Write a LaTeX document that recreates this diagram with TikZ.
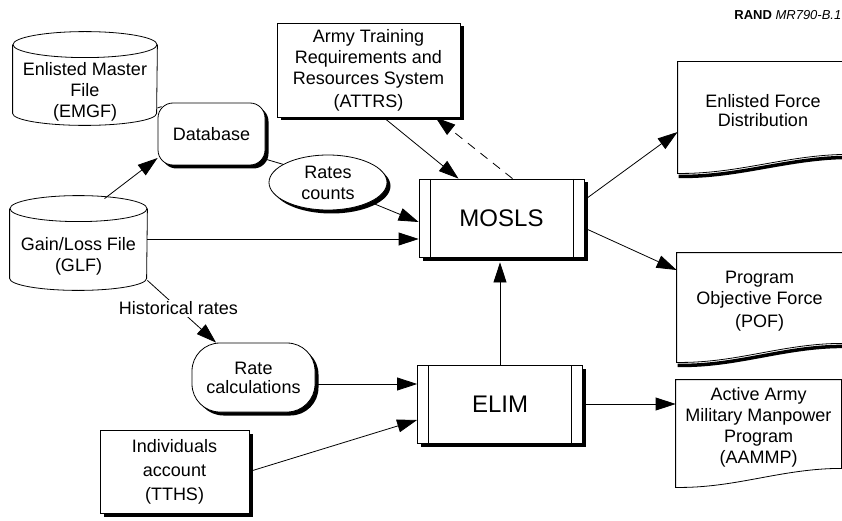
\documentclass[tikz,border=0pt]{standalone}
\usepackage{fontspec}
\setmainfont{Liberation Sans}
\usetikzlibrary{arrows.meta,shadows,shapes.geometric}

\tikzset{
  every node/.style={font=\fontsize{18}{21}\selectfont,align=center,inner sep=0pt},
  arr/.style={-{Triangle[length=20pt,width=13pt]},line width=0.8pt},
  shadowed/.style={drop shadow={fill=black,opacity=1,
      shadow xshift=3.5pt,shadow yshift=-3.5pt}},
  box/.style={draw,fill=white,line width=0.8pt,shadowed},
  roundbox/.style={box},
  procbox/.style={box,minimum width=165pt,minimum height=78pt,
    font=\fontsize{24}{28}\selectfont,
    path picture={
      \draw ([xshift=11pt]path picture bounding box.north west) --
        ([xshift=11pt]path picture bounding box.south west);
      \draw ([xshift=-11pt]path picture bounding box.north east) --
        ([xshift=-11pt]path picture bounding box.south east);}},
  drum/.style={},
  docbox/.style={}
}

\begin{document}
\begin{tikzpicture}[x=1pt,y=-1pt,line width=0.8pt]
\useasboundingbox (0,0) rectangle (842,521);

\begin{scope} % files and sources
  \node (emgf) [drum,minimum width=144pt,minimum height=66pt] at (85,92)
    {Enlisted Master\\File\\(EMGF)};
  \node (glf) [drum,minimum width=137pt,minimum height=67pt] at (78.5,256.5)
    {Gain/Loss File\\(GLF)};
  \node (database) [roundbox,rounded corners=15pt,minimum width=107pt,
    minimum height=62pt] at (211.5,134) {Database};
  \node (rates) [ellipse,box,minimum width=118pt,minimum height=55pt]
    at (328,182.5) {Rates\\counts};
  \node (attrs) [box,minimum width=183pt,minimum height=94pt] at (368.5,70)
    {Army Training\\Requirements and\\Resources System\\[2pt](ATTRS)};
  \node (ratecalc) [roundbox,rounded corners=28pt,minimum width=123pt,
    minimum height=69pt] at (253.5,377.5) {Rate\\[-2pt]calculations};
  \node (indiv) [box,minimum width=149pt,minimum height=83pt] at (174.5,471.5)
    {Individuals\\[3pt]account\\[3pt](TTHS)};
\end{scope}

\begin{scope} % models
  \node (mosls) [procbox] at (501.5,218) {MOSLS};
  \node (elim) [procbox] at (500,404) {ELIM};
\end{scope}

\begin{scope} % output documents
  \node (efd) [docbox,minimum width=170pt,minimum height=98pt] at (763,111)
    {Enlisted Force\\[-2pt]Distribution};
  \node (pof) [docbox,minimum width=165pt,minimum height=96pt] at (759.5,301)
    {Program\\Objective Force\\[2pt](POF)};
  \node (aammp) [docbox,minimum width=165pt,minimum height=94pt]
    at (758.5,427) {Active Army\\Military Manpower\\Program\\(AAMMP)};
\end{scope}

\node (rand) [anchor=west,font=\fontsize{13}{15}\selectfont] at (734,15)
  {\textbf{RAND} \textit{MR790-B.1}};

\foreach \n/\rx in {emgf/72pt,glf/68.5pt} { % drums
  \draw ([yshift=14pt]\n.north west) -- ([yshift=12pt]\n.south west)
    arc[start angle=180,end angle=360,x radius=\rx,y radius=12pt]
    -- ([yshift=14pt]\n.north east);
  \draw ([yshift=14pt]\n.north) ellipse[x radius=\rx,y radius=13pt];
}

\foreach \n in {efd,pof} { % thick lower edges
  \draw[line width=3.5pt]
    ([shift={(1pt,3pt)}]\n.south east) .. controls +(-60pt,0pt) and
    +(60pt,-1pt) .. ([shift={(1pt,-16pt)}]\n.south west);
}
\foreach \n in {efd,pof,aammp} {
  \draw (\n.north west) -- (\n.north east) -- ([yshift=6pt]\n.south east)
    .. controls +(-60pt,0pt) and +(60pt,-1pt) ..
    ([yshift=-13pt]\n.south west) -- cycle;
}

\begin{scope} % connectors
  \coordinate (glfin) at ([yshift=-21pt]mosls.west);
  \coordinate (rcin) at ([yshift=20pt]elim.west);
  \draw ([yshift=-16pt]emgf.east) -- ([xshift=4pt,yshift=-4pt]database.north west);
  \draw[arr] ([xshift=26pt,yshift=24pt]glf.north) -- (database.204);
  \draw (database.-25) -- (rates.158);
  \draw[arr] (rates.-25) -- ([yshift=-4pt]mosls.west);
  \draw[arr] (glf.east |- glfin) -- (glfin);
  \draw[arr] ([xshift=15pt]attrs.south) -- ([xshift=-43pt]mosls.north);
  \draw[arr,dash pattern=on 9pt off 7pt] ([xshift=11pt]mosls.north) --
    ([xshift=67pt]attrs.south);
  \draw[arr,shorten >=5pt] (elim.north) -- (elim.north |- mosls.south);
  \draw[arr] ([yshift=18pt]mosls.east) -- ([yshift=-21pt]efd.west);
  \draw[arr] ([yshift=-10pt]mosls.east) -- ([yshift=31pt]pof.west);
  \draw[arr] (elim.east) -- (elim.east -| aammp.west);
  \draw[arr] (ratecalc.east |- rcin) -- (rcin);
  \draw[arr] (indiv.east) -- ([yshift=-16pt]elim.west);
  \draw[arr] ([yshift=10pt]glf.south east) -- node[pos=0.45,fill=white,
    inner sep=2pt] (hist) {Historical rates} (ratecalc.137);
\end{scope}

\end{tikzpicture}
\end{document}
